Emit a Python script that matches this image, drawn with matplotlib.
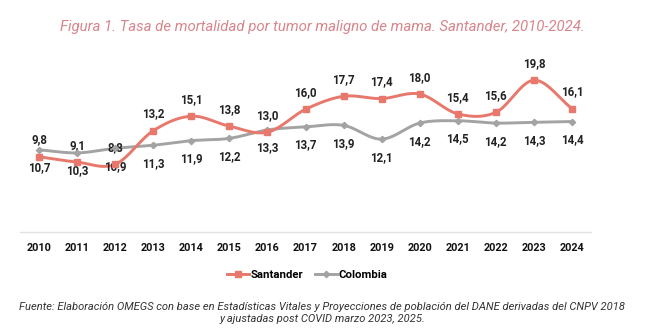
import numpy as np
import matplotlib

matplotlib.use('Agg')
import matplotlib.pyplot as plt

YEARS = [2010, 2011, 2012, 2013, 2014, 2015, 2016, 2017,
         2018, 2019, 2020, 2021, 2022, 2023, 2024]
SANTANDER = [9.8, 9.1, 8.8, 13.2, 15.1, 13.8, 13.0, 16.0,
             17.7, 17.4, 18.0, 15.4, 15.6, 19.8, 16.1]
COLOMBIA = [10.7, 10.3, 10.9, 11.3, 11.9, 12.2, 13.3, 13.7,
            13.9, 12.1, 14.2, 14.5, 14.2, 14.3, 14.4]

RED = '#e8776c'
GREY = '#a3a3a3'
FONT = ['Roboto', 'DejaVu Sans']


def smooth(x, y, n=20):
    """Catmull-Rom curve through every point (Excel-style smoothed line)."""
    x = np.asarray(x, float); y = np.asarray(y, float)
    px = np.concatenate([[2 * x[0] - x[1]], x, [2 * x[-1] - x[-2]]])
    py = np.concatenate([[2 * y[0] - y[1]], y, [2 * y[-1] - y[-2]]])
    t = np.linspace(0, 1, n, endpoint=False)[:, None]
    xs, ys = [], []
    for i in range(1, len(px) - 2):
        for p, out in ((px, xs), (py, ys)):
            p0, p1, p2, p3 = p[i - 1], p[i], p[i + 1], p[i + 2]
            seg = 0.5 * (2 * p1 + (-p0 + p2) * t + (2 * p0 - 5 * p1 + 4 * p2 - p3) * t ** 2
                         + (-p0 + 3 * p1 - 3 * p2 + p3) * t ** 3)
            out.append(seg.ravel())
    return np.concatenate(xs + [[x[-1]]]), np.concatenate(ys + [[y[-1]]])


fig = plt.figure(figsize=(6.65, 3.35), dpi=100)
ax = fig.add_axes([20 / 665, 103.3 / 335, 571 / 665, 183.6 / 335])

pos = np.arange(len(YEARS))
for vals, color, marker, ms in [(COLOMBIA, GREY, 'D', 3.2),
                                (SANTANDER, RED, 's', 5)]:
    sx, sy = smooth(pos, vals)
    ax.plot(sx, sy, color=color, lw=2.1, solid_capstyle='round', zorder=3)
    ax.plot(pos, vals, ls='none', marker=marker, ms=ms, color=color, zorder=4)

for i, v in enumerate(SANTANDER):
    ax.annotate(f'{v:.1f}'.replace('.', ','), (i, v), xytext=(0, 12), textcoords='offset points',
                ha='center', va='center', fontsize=8.3, fontweight='bold', color='#222222',
                family=FONT)
for i, v in enumerate(COLOMBIA):
    ax.annotate(f'{v:.1f}'.replace('.', ','), (i, v), xytext=(0, -13), textcoords='offset points',
                ha='center', va='center', fontsize=8.3, fontweight='bold', color='#222222',
                family=FONT)

ax.set_xlim(-0.5, len(YEARS) - 0.5)
ax.set_ylim(0, 24)
ax.set_xticks(pos)
ax.set_xticklabels(YEARS, fontsize=7.8, fontweight='bold', family=FONT, color='#111111')
ax.tick_params(axis='x', length=0, pad=8)
ax.set_yticks([])
for side in ['left', 'right', 'top']:
    ax.spines[side].set_visible(False)
ax.spines['bottom'].set_color('#e2e2e2')
ax.spines['bottom'].set_linewidth(1)

handles = [plt.Line2D([], [], color=RED, lw=2.1, marker='s', ms=5, label='Santander'),
           plt.Line2D([], [], color=GREY, lw=2.1, marker='D', ms=3.2, label='Colombia')]
fig.legend(handles=handles, loc='center', bbox_to_anchor=(307 / 665, 1 - 275 / 335), ncol=2,
           frameon=False, handlelength=2.0, handletextpad=0.1, columnspacing=1.0,
           prop={'family': FONT, 'weight': 'bold', 'size': 8.2})

fig.text(322 / 665, 1 - 27 / 335,
         'Figura 1. Tasa de mortalidad por tumor maligno de mama. Santander, 2010-2024.',
         ha='center', va='center', fontsize=10.8, style='italic', color='#d9858b', family=FONT)
fig.text(322 / 665, 1 - 313 / 335,
         'Fuente: Elaboración OMEGS con base en Estadísticas Vitales y Proyecciones de población '
         'del DANE derivadas del CNPV 2018\ny ajustadas post COVID marzo 2023, 2025.',
         ha='center', va='center', fontsize=8.0, style='italic', color='#333333', family=FONT,
         linespacing=1.2)

fig.savefig('out.png', dpi=100)
